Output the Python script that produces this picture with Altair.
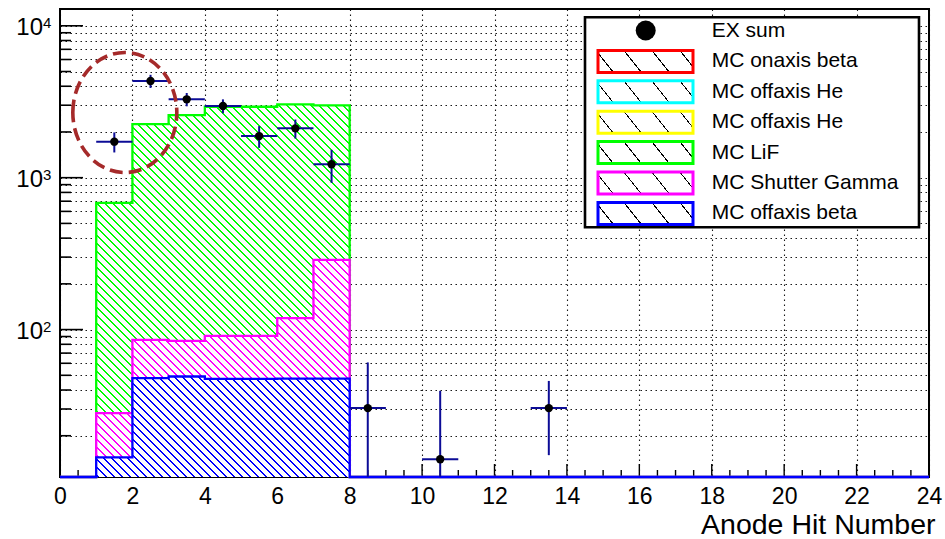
import math
import altair as alt
import pandas as pd

# ---------------- data ----------------
BIN_LO = list(range(0, 24))            # bin lower edges, width 1
# per-component bin contents (bins 0..23)
MC_OFFAXIS_BETA = [0, 14.4, 47.9, 49.1, 47.4, 47.4, 47.6, 47.6] + [0] * 16
MC_SHUTTER_GAMMA = [0, 13.8, 37.6, 35.2, 43.6, 43.6, 71.3, 240.0] + [0] * 16
MC_LIF = [0, 654, 2169, 2500, 2840, 2840, 2921, 2706] + [0] * 16
MC_OFFAXIS_HE_B = [0] * 24
MC_OFFAXIS_HE_A = [0] * 24
MC_ONAXIS_BETA = [0] * 24

EX_X = [1.5, 2.5, 3.5, 4.5, 5.5, 6.5, 7.5, 8.5, 10.5, 13.5]
EX_Y = [1726, 4327, 3281, 2966, 1879, 2113, 1225, 30.4, 14.0, 30.4]
EX_ERR = [260, 430, 330, 312, 307, 303, 300, 30.4, 25.5, 15.5]

# stack order bottom -> top
STACK_NAMES = ["MC offaxis beta", "MC Shutter Gamma", "MC LiF",
               "MC offaxis He ", "MC offaxis He", "MC onaxis beta"]
STACK_VALUES = [MC_OFFAXIS_BETA, MC_SHUTTER_GAMMA, MC_LIF,
                MC_OFFAXIS_HE_B, MC_OFFAXIS_HE_A, MC_ONAXIS_BETA]
STACK_COLORS = ["#0000ff", "#ff00ff", "#00ff00", "#ffff00", "#00ffff", "#ff0000"]

LEGEND_LABELS = ["EX sum", "MC onaxis beta", "MC offaxis He", "MC offaxis He",
                 "MC LiF", "MC Shutter Gamma", "MC offaxis beta"]
LEGEND_COLORS = [None, "#ff0000", "#00ffff", "#ffff00", "#00ff00", "#ff00ff", "#0000ff"]

X_LABELS = list(range(0, 25, 2))
Y_DECADES = [100, 1000, 10000]

# annotation ellipse (data coords)
ANNOT_X = [1.79]
ANNOT_Y = [2685]

# ---------------- layout / style ----------------
PW, PH = 869, 468
XMIN, XMAX = 0, 24
YMIN, YMAX = 10.7, 12900.0
FLOOR = 1.0
FONT = "Liberation Sans"
ERR_COLOR = "#0c0c96"

XS = alt.Scale(domain=[XMIN, XMAX], nice=False, zero=False)
YS = alt.Scale(type="log", domain=[YMIN, YMAX], nice=False, clamp=True)

YGRID = [m * 10 ** e for e in (1, 2, 3, 4) for m in range(1, 10)
         if YMIN <= m * 10 ** e <= YMAX]

GRID = dict(grid=True, gridColor="black", gridDash=[1.5, 3.5], gridWidth=1.1, gridOpacity=0.9)
XAX = alt.Axis(values=X_LABELS, ticks=False, domain=False, labelFontSize=23, labelFont=FONT,
               labelColor="black", labelPadding=8, labelFlush=False, labelOverlap=False,
               title="Anode Hit Number", titleFont=FONT, titleFontSize=28.5,
               titleFontWeight="normal", titleColor="black", titleAlign="right",
               titleBaseline="alphabetic", titleX=PW + 6, titleY=56, **GRID)
YAX = alt.Axis(values=YGRID, ticks=False, labels=False, domain=False, title=None, **GRID)


def X(f):
    return alt.X(f, type="quantitative", scale=XS, axis=XAX)


def Y(f):
    return alt.Y(f, type="quantitative", scale=YS, axis=YAX)


def xpx(x):
    return PW * (x - XMIN) / (XMAX - XMIN)


def ypx(v):
    v = min(max(v, YMIN), YMAX)
    return PH * (math.log10(YMAX) - math.log10(v)) / (math.log10(YMAX) - math.log10(YMIN))


def hatch(gid, color, W, H, spacing=8.0, slope=1.0, lw=1.0, bg="white", phase=0.3):
    """Linear gradient that imitates ROOT '\\' hatching in a W x H box."""
    span = W + H / slope
    k = (slope * W + H) / ((slope * W) ** 2 + H ** 2)
    x2, y2 = k * slope * W, 1 - k * H
    dt = spacing / span
    wt = lw * math.sqrt(1 + slope ** 2) / slope / span
    stops = [alt.GradientStop(color=bg, offset=0)]
    tc = phase * dt
    while tc - wt / 2 < 1:
        a, b = max(tc - wt / 2, 0), min(tc + wt / 2, 1)
        if b > 0:
            stops += [alt.GradientStop(color=bg, offset=round(a, 6)),
                      alt.GradientStop(color=color, offset=round(a, 6)),
                      alt.GradientStop(color=color, offset=round(b, 6)),
                      alt.GradientStop(color=bg, offset=round(b, 6))]
        tc += dt
    stops.append(alt.GradientStop(color=bg, offset=1))
    return alt.LinearGradient(gradient="linear", id=gid, stops=stops,
                              x1=0, y1=1, x2=round(x2, 6), y2=round(y2, 6))


# ---------------- build stacked histogram tables ----------------
cum_prev = [0.0] * 24
series = []
for name, vals, col in zip(STACK_NAMES, STACK_VALUES, STACK_COLORS):
    cum = [p + v for p, v in zip(cum_prev, vals)]
    series.append((name, vals, col, list(cum_prev), cum))
    cum_prev = cum

layers = []

# base layer carrying the grid / axes (invisible)
base_df = pd.DataFrame({"x": [XMIN], "y": [YMIN]})
layers.append(alt.Chart(base_df).mark_point(opacity=0).encode(x=X("x"), y=Y("y")))

# tick marks (inside the frame, ROOT style) -- drawn under histograms
ytick_df = pd.DataFrame({"v": YGRID, "major": [abs(math.log10(v) - round(math.log10(v))) < 1e-9 for v in YGRID]})
layers.append(alt.Chart(ytick_df[ytick_df.major]).mark_rule(color="black", strokeWidth=1.6).encode(
    y=Y("v"), x=alt.value(0), x2=alt.value(23)))
layers.append(alt.Chart(ytick_df[~ytick_df.major]).mark_rule(color="black", strokeWidth=1.6).encode(
    y=Y("v"), x=alt.value(0), x2=alt.value(11)))
xt = [i * 0.5 for i in range(1, 48)]
xtick_df = pd.DataFrame({"x": xt, "major": [t % 2 == 0 for t in xt]})
layers.append(alt.Chart(xtick_df[xtick_df.major]).mark_rule(color="black", strokeWidth=1.4).encode(
    x=X("x"), y=alt.value(PH), y2=alt.value(PH - 13)))
layers.append(alt.Chart(xtick_df[~xtick_df.major]).mark_rule(color="black", strokeWidth=1.4).encode(
    x=X("x"), y=alt.value(PH), y2=alt.value(PH - 7)))

# histograms: top of stack first so lower ones overdraw (as ROOT does)
for si, (name, vals, col, lower, upper) in reversed(list(enumerate(series))):
    if sum(vals) <= 0:
        continue
    rows = []
    for i, lo in enumerate(BIN_LO):
        if vals[i] > 0:
            for xx in (lo, lo + 1):
                rows.append({"x": xx, "lo": max(lower[i], FLOOR), "hi": upper[i]})
    adf = pd.DataFrame(rows)
    x0, x1 = xpx(adf.x.min()), xpx(adf.x.max())
    y0, y1 = ypx(adf.hi.max()), ypx(adf.lo.min())
    grad = hatch(f"hatch_area_{si}", col, x1 - x0, y1 - y0, spacing=8.0, slope=1.0, lw=1.3)
    layers.append(alt.Chart(adf).mark_area(fill=grad, fillOpacity=1, opacity=1).encode(
        x=X("x"), y=Y("hi"), y2=alt.Y2("lo")))
    lrows = []
    o = 0
    for i, lo in enumerate(BIN_LO):
        for xx in (lo, lo + 1):
            lrows.append({"x": xx, "y": max(upper[i], FLOOR), "ord": o})
            o += 1
    ldf = pd.DataFrame(lrows)
    layers.append(alt.Chart(ldf).mark_line(color=col, strokeWidth=2.3, strokeJoin="miter").encode(
        x=X("x"), y=Y("y"), order=alt.Order("ord:Q")))

# y axis labels 10^n
ylab = pd.DataFrame({"v": Y_DECADES, "base": ["10"] * len(Y_DECADES),
                     "exp": [str(int(round(math.log10(v)))) for v in Y_DECADES]})
layers.append(alt.Chart(ylab).mark_text(align="right", baseline="middle", dy=2.6, fontSize=24,
                                        font=FONT, color="black").encode(
    y=Y("v"), x=alt.value(-17), text="base:N"))
layers.append(alt.Chart(ylab).mark_text(align="left", baseline="middle", dy=-3, fontSize=15,
                                        font=FONT, color="black").encode(
    y=Y("v"), x=alt.value(-17), text="exp:N"))

# data points with errors
ex = pd.DataFrame({"x": EX_X, "y": EX_Y, "err": EX_ERR})
ex["lo"] = (ex.y - ex.err).clip(lower=FLOOR)
ex["hi"] = ex.y + ex.err
ex["xl"] = ex.x - 0.5
ex["xh"] = ex.x + 0.5
layers.append(alt.Chart(ex).mark_rule(color=ERR_COLOR, strokeWidth=2).encode(
    x=X("x"), y=Y("lo"), y2=alt.Y2("hi")))
layers.append(alt.Chart(ex).mark_rule(color=ERR_COLOR, strokeWidth=2).encode(
    x=X("xl"), x2=alt.X2("xh"), y=Y("y")))
layers.append(alt.Chart(ex).mark_circle(size=70, color="black", opacity=1).encode(
    x=X("x"), y=Y("y")))

# dashed annotation ellipse
ELLIPSE = "M-1,0 A1,1.154 0 1,1 1,0 A1,1.154 0 1,1 -1,0 Z"
ann = pd.DataFrame({"x": ANNOT_X, "y": ANNOT_Y})
layers.append(alt.Chart(ann).mark_point(shape=ELLIPSE, size=104 * 104, filled=False, opacity=1,
                                        stroke="#a52a2a", strokeWidth=3.6,
                                        strokeDash=[13, 6]).encode(x=X("x"), y=Y("y")))

# legend box (ROOT TLegend)
one = pd.DataFrame({"a": [0]})
layers.append(alt.Chart(one).mark_rect(fill="white", stroke="black", strokeWidth=2.6).encode(
    x=alt.value(525), x2=alt.value(859), y=alt.value(8.3), y2=alt.value(218.3)))
ROW0, ROWSTEP = 22.0, 30.4
for i, (lab, col) in enumerate(zip(LEGEND_LABELS, LEGEND_COLORS)):
    cy = ROW0 + ROWSTEP * i
    ldf = pd.DataFrame({"label": [lab]})
    if col is None:
        layers.append(alt.Chart(ldf).mark_circle(size=400, color="black", opacity=1).encode(
            x=alt.value(585.7), y=alt.value(cy - 0.5)))
    else:
        g = hatch(f"hatch_leg_{i}", "black", 95, 22, spacing=28, slope=1.25, lw=1.0, phase=0.55)
        layers.append(alt.Chart(ldf).mark_rect(fill=g, stroke=col, strokeWidth=3).encode(
            x=alt.value(538), x2=alt.value(633), y=alt.value(cy - 11), y2=alt.value(cy + 11)))
    layers.append(alt.Chart(ldf).mark_text(align="left", baseline="middle", fontSize=21, font=FONT,
                                           color="black").encode(
        x=alt.value(651.7), y=alt.value(cy), text="label:N"))

chart = alt.layer(*layers).properties(
    width=PW, height=PH,
    autosize=alt.AutoSizeParams(type="none"),
    padding={"left": 60, "top": 9, "right": 945 - 60 - PW, "bottom": 539 - 9 - PH},
    background="white",
).configure_view(stroke="black", strokeWidth=2)

chart.save("out.html", embed_options={"renderer": "svg", "actions": False})
